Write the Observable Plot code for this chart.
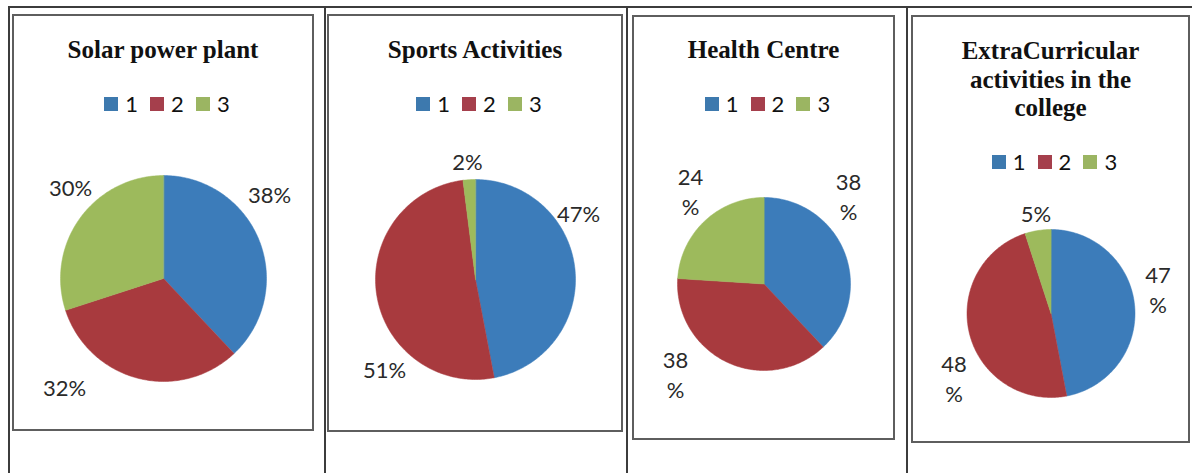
<!DOCTYPE html>
<html><head><meta charset="utf-8">
<script src="https://cdn.jsdelivr.net/npm/d3@7"></script>
<script src="https://cdn.jsdelivr.net/npm/@observablehq/plot@0.6"></script>
<style>
body{margin:0;background:#fff;}
#page{position:relative;width:1192px;height:473px;overflow:hidden;background:#fff;}
.rule{position:absolute;background:#3c3c3c;}
.box{position:absolute;box-sizing:border-box;border:2px solid #5e5e5e;}
.pie{position:absolute;}
.title{position:absolute;text-align:center;font-family:"Liberation Serif","Times New Roman",serif;font-weight:bold;font-size:25px;line-height:28.5px;color:#111;}
.legend{position:absolute;display:flex;justify-content:center;align-items:center;height:22px;box-sizing:border-box;padding-left:8px;font-family:Lato,sans-serif;font-size:22px;line-height:22px;color:#111;}
.item{display:flex;align-items:center;margin:0 6px;}
.sw{width:14px;height:14px;margin-right:7px;}
</style></head><body><div id="page"></div>
<script>
// ---- data ----
const categories = ["1", "2", "3"];
const titles = ["Solar power plant", "Sports Activities", "Health Centre", "ExtraCurricular\nactivities in the\ncollege"];
const solarValues = [38, 32, 30];
const sportsValues = [47, 51, 2];
const healthValues = [38, 38, 24];
const extraValues = [47, 48, 5];
const seriesValues = [solarValues, sportsValues, healthValues, extraValues];

// ---- styles / layout ----
const colors = ["#3c7cba", "#a83a3e", "#9dba5c"];
const legendColors = ["#3d79ae", "#a53f4c", "#9bb562"];
const wrapLabels = [[false, false, false], [false, false, false], [true, true, true], [true, true, false]];
const labelSpots = [
  [[1.029, 0.825], [-0.961, -1.049], [-0.903, 0.893]],
  [[1.03, 0.67], [-0.91, -0.89], [-0.08, 1.19]],
  [[0.977, 1.023], [-1.023, -1.035], [-0.850, 1.081]],
  [[1.274, 0.298], [-1.155, -0.762], [-0.179, 1.202]]
];
const panels = [
  {left: 12, top: 14, w: 302, h: 417, cx: 151, cy: 264, r: 103, titleTop: 36, legendTop: 93},
  {left: 327, top: 14, w: 296, h: 418, cx: 148, cy: 265, r: 100, titleTop: 36, legendTop: 93},
  {left: 632, top: 15, w: 263, h: 425, cx: 131.5, cy: 268.5, r: 86.5, titleTop: 36, legendTop: 93},
  {left: 911, top: 15, w: 279, h: 428, cx: 139.5, cy: 298, r: 84, titleTop: 37, legendTop: 151}
];

const page = document.getElementById("page");
function addDiv(cls, css, html) {
  const d = document.createElement("div");
  d.className = cls;
  Object.assign(d.style, css);
  if (html != null) d.innerHTML = html;
  page.appendChild(d);
  return d;
}

// table rules
addDiv("rule", {left: "9px", top: "6px", width: "1183px", height: "2px"});
[8, 324, 626, 906].forEach(x => addDiv("rule", {left: x + "px", top: "6px", width: "2px", height: "467px"}));

panels.forEach((p, i) => {
  addDiv("box", {left: p.left + "px", top: p.top + "px", width: p.w + "px", height: p.h + "px"});

  const values = seriesValues[i];
  const rows = categories.map((c, j) => ({cat: c, value: values[j]}));
  const arcs = d3.pie().sort(null).value(d => d.value)(rows);
  const poly = [];
  arcs.forEach(a => {
    poly.push({cat: a.data.cat, x: 0, y: 0});
    const n = Math.max(2, Math.ceil((a.endAngle - a.startAngle) / (Math.PI / 180)));
    for (let k = 0; k <= n; k++) {
      const t = a.startAngle + (a.endAngle - a.startAngle) * k / n;
      poly.push({cat: a.data.cat, x: Math.sin(t), y: Math.cos(t)});
    }
  });
  const labels = rows.map((d, j) => ({
    text: wrapLabels[i][j] ? d.value + "\n%" : d.value + "%",
    x: labelSpots[i][j][0],
    y: labelSpots[i][j][1]
  }));

  const chart = Plot.plot({
    width: p.w, height: p.h, margin: 0,
    x: {domain: [-1, 1], range: [p.cx - p.r, p.cx + p.r], axis: null},
    y: {domain: [-1, 1], range: [p.cy + p.r, p.cy - p.r], axis: null},
    color: {domain: categories, range: colors},
    style: {background: "transparent", overflow: "visible"},
    marks: [
      Plot.line(poly, {x: "x", y: "y", z: "cat", fill: "cat", stroke: "cat", strokeWidth: 0.5, curve: "linear-closed"}),
      Plot.text(labels, {x: "x", y: "y", text: "text", fontSize: 22, fontFamily: "Lato, sans-serif", fill: "#2a2a2a", lineHeight: 1.35, lineAnchor: "middle", textAnchor: "middle"})
    ]
  });
  const holder = addDiv("pie", {left: p.left + "px", top: p.top + "px", width: p.w + "px", height: p.h + "px"});
  holder.appendChild(chart);

  addDiv("title", {left: p.left + "px", top: p.titleTop + "px", width: p.w + "px"}, titles[i].split("\n").join("<br>"));

  const lg = addDiv("legend", {left: p.left + "px", top: p.legendTop + "px", width: p.w + "px"});
  categories.forEach((c, j) => {
    const it = document.createElement("span");
    it.className = "item";
    const sw = document.createElement("span");
    sw.className = "sw";
    sw.style.background = legendColors[j];
    const tx = document.createElement("span");
    tx.textContent = c;
    it.appendChild(sw); it.appendChild(tx);
    lg.appendChild(it);
  });
});
</script></body></html>
